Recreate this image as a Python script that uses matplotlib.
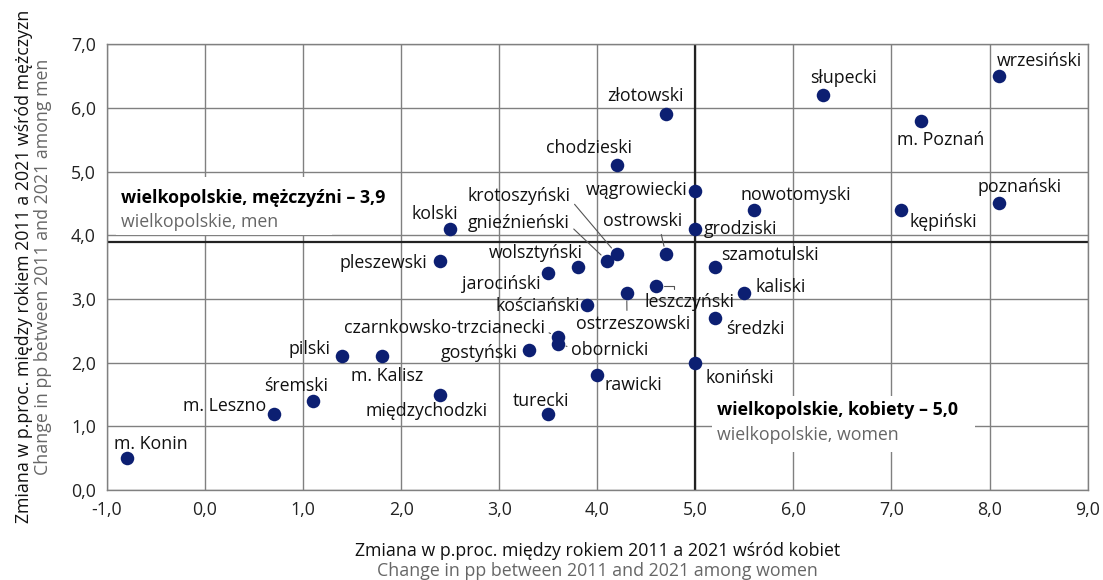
import matplotlib

matplotlib.use("Agg")
import matplotlib.pyplot as plt
from matplotlib.patches import Rectangle
from matplotlib.ticker import FuncFormatter, MultipleLocator

plt.rcParams["font.family"] = ["Open Sans", "DejaVu Sans"]

# powiaty – zmiana w p.proc. 2011-2021 (kobiety, mężczyźni)
names = [
    "m. Konin", "m. Leszno", "śremski", "pilski", "m. Kalisz", "międzychodzki",
    "pleszewski", "kolski", "gostyński", "turecki", "jarociński", "wolsztyński",
    "kościański", "czarnkowsko-trzcianecki", "obornicki", "rawicki", "gnieźnieński",
    "krotoszyński", "chodzieski", "ostrzeszowski", "leszczyński", "ostrowski",
    "złotowski", "wągrowiecki", "grodziski", "koniński", "szamotulski", "średzki",
    "kaliski", "nowotomyski", "słupecki", "kępiński", "m. Poznań", "poznański",
    "wrzesiński",
]
women = [
    -0.8, 0.7, 1.1, 1.4, 1.8, 2.4,
    2.4, 2.5, 3.3, 3.5, 3.5, 3.8,
    3.9, 3.6, 3.6, 4.0, 4.1,
    4.2, 4.2, 4.3, 4.6, 4.7,
    4.7, 5.0, 5.0, 5.0, 5.2, 5.2,
    5.5, 5.6, 6.3, 7.1, 7.3, 8.1,
    8.1,
]
men = [
    0.5, 1.2, 1.4, 2.1, 2.1, 1.5,
    3.6, 4.1, 2.2, 1.2, 3.4, 3.5,
    2.9, 2.4, 2.3, 1.8, 3.6,
    3.7, 5.1, 3.1, 3.2, 3.7,
    5.9, 4.7, 4.1, 2.0, 3.5, 2.7,
    3.1, 4.4, 6.2, 4.4, 5.8, 4.5,
    6.5,
]
avg_women = 5.0
avg_men = 3.9

# przesunięcia etykiet w pikselach: (dx, dy, ha, punkt zaczepienia linii odniesienia)
label_pos = {
    "m. Konin": (-13, 14, "left", None),
    "m. Leszno": (-7, 8, "right", None),
    "śremski": (-17, 15, "center", None),
    "pilski": (-12, 7, "right", None),
    "m. Kalisz": (-31, -20, "left", None),
    "międzychodzki": (-14, -16, "center", None),
    "pleszewski": (-13, -2, "right", None),
    "kolski": (-15, 15, "center", None),
    "gostyński": (-11, -3, "right", None),
    "turecki": (-7, 13, "center", None),
    "jarociński": (-8, -11, "right", None),
    "wolsztyński": (-42, 14, "center", None),
    "kościański": (-7, -1, "right", None),
    "czarnkowsko-trzcianecki": (-13, 9, "right", (1.0, 0.35)),
    "obornicki": (13, -6, "left", (0.0, 0.6)),
    "rawicki": (7, -10, "left", None),
    "gnieźnieński": (-139, 38, "left", (1.0, 0.35)),
    "krotoszyński": (-149, 58, "left", (1.0, 0.3)),
    "chodzieski": (-28, 17, "center", None),
    "ostrzeszowski": (6, -31, "center", (0.45, 1.0)),
    "leszczyński": (33, -16, "center", (0.33, 0.9)),
    "ostrowski": (-23, 33, "center", (0.72, 0.0)),
    "złotowski": (-20, 18, "center", None),
    "wągrowiecki": (-8, 1, "right", None),
    "grodziski": (8, 0, "left", None),
    "koniński": (10, -15, "left", None),
    "szamotulski": (6, 12, "left", None),
    "średzki": (11, -11, "left", None),
    "kaliski": (11, 6, "left", None),
    "nowotomyski": (-14, 15, "left", None),
    "słupecki": (21, 17, "center", None),
    "kępiński": (8, -12, "left", None),
    "m. Poznań": (20, -19, "center", None),
    "poznański": (20, 16, "center", None),
    "wrzesiński": (40, 15, "center", None),
}

POINT = "#0c1f72"
GRID = "#808080"
FS = 12.8

fig = plt.figure(figsize=(11.03, 5.8), dpi=100)
ax = fig.add_axes([0.097, 0.155, 0.889, 0.769])

ax.set_xlim(-1, 9)
ax.set_ylim(0, 7)
ax.xaxis.set_major_locator(MultipleLocator(1))
ax.yaxis.set_major_locator(MultipleLocator(1))
fmt = FuncFormatter(lambda v, _: f"{v:.1f}".replace(".", ","))
ax.xaxis.set_major_formatter(fmt)
ax.yaxis.set_major_formatter(fmt)
ax.tick_params(length=0, labelsize=FS, pad=8, colors="#222222")
ax.grid(True, color=GRID, lw=1)
ax.set_axisbelow(True)
for sp in ax.spines.values():
    sp.set_color(GRID)
    sp.set_linewidth(1)

# średnie dla województwa
ax.axvline(avg_women, color="#222222", lw=1.6, zorder=2)
ax.axhline(avg_men, color="#222222", lw=1.6, zorder=2)

# białe tła pod opisami średnich
ax.add_patch(Rectangle((-0.91, 4.01), 2.2, 0.9, facecolor="white", edgecolor="none", zorder=1))
ax.add_patch(Rectangle((5.17, 0.6), 2.68, 0.88, facecolor="white", edgecolor="none", zorder=1))
ax.text(-0.86, 4.58, "wielkopolskie, mężczyźni – 3,9", fontsize=FS, fontweight="bold",
        va="center", ha="left", zorder=3)
ax.text(-0.86, 4.2, "wielkopolskie, men", fontsize=FS, color="#666666",
        va="center", ha="left", zorder=3)
ax.text(5.22, 1.26, "wielkopolskie, kobiety – 5,0", fontsize=FS, fontweight="bold",
        va="center", ha="left", zorder=3)
ax.text(5.22, 0.86, "wielkopolskie, women", fontsize=FS, color="#666666",
        va="center", ha="left", zorder=3)

ax.scatter(women, men, s=95, color=POINT, zorder=4, linewidths=0)

for name, x, y in zip(names, women, men):
    dx, dy, ha, relpos = label_pos[name]
    props = None
    if relpos is not None:
        props = dict(arrowstyle="-", color="#555555", lw=0.8, shrinkA=1, shrinkB=6,
                     relpos=relpos)
        if name == "leszczyński":
            props["connectionstyle"] = "angle,angleA=90,angleB=0,rad=0"
    ax.annotate(name, (x, y), xytext=(dx, dy), textcoords="offset pixels",
                ha=ha, va="center", fontsize=FS, color="#111111", zorder=5,
                arrowprops=props)

fig.text(0.022, 0.54, "Zmiana w p.proc. między rokiem 2011 a 2021 wśród mężczyzn",
         rotation=90, ha="center", va="center", fontsize=FS, color="#111111")
fig.text(0.039, 0.54, "Change in pp between 2011 and 2021 among men",
         rotation=90, ha="center", va="center", fontsize=FS, color="#666666")
fig.text(0.542, 0.05, "Zmiana w p.proc. między rokiem 2011 a 2021 wśród kobiet",
         ha="center", va="center", fontsize=FS, color="#111111")
fig.text(0.542, 0.016, "Change in pp between 2011 and 2021 among women",
         ha="center", va="center", fontsize=FS, color="#666666")

fig.savefig("out.png", dpi=100)
